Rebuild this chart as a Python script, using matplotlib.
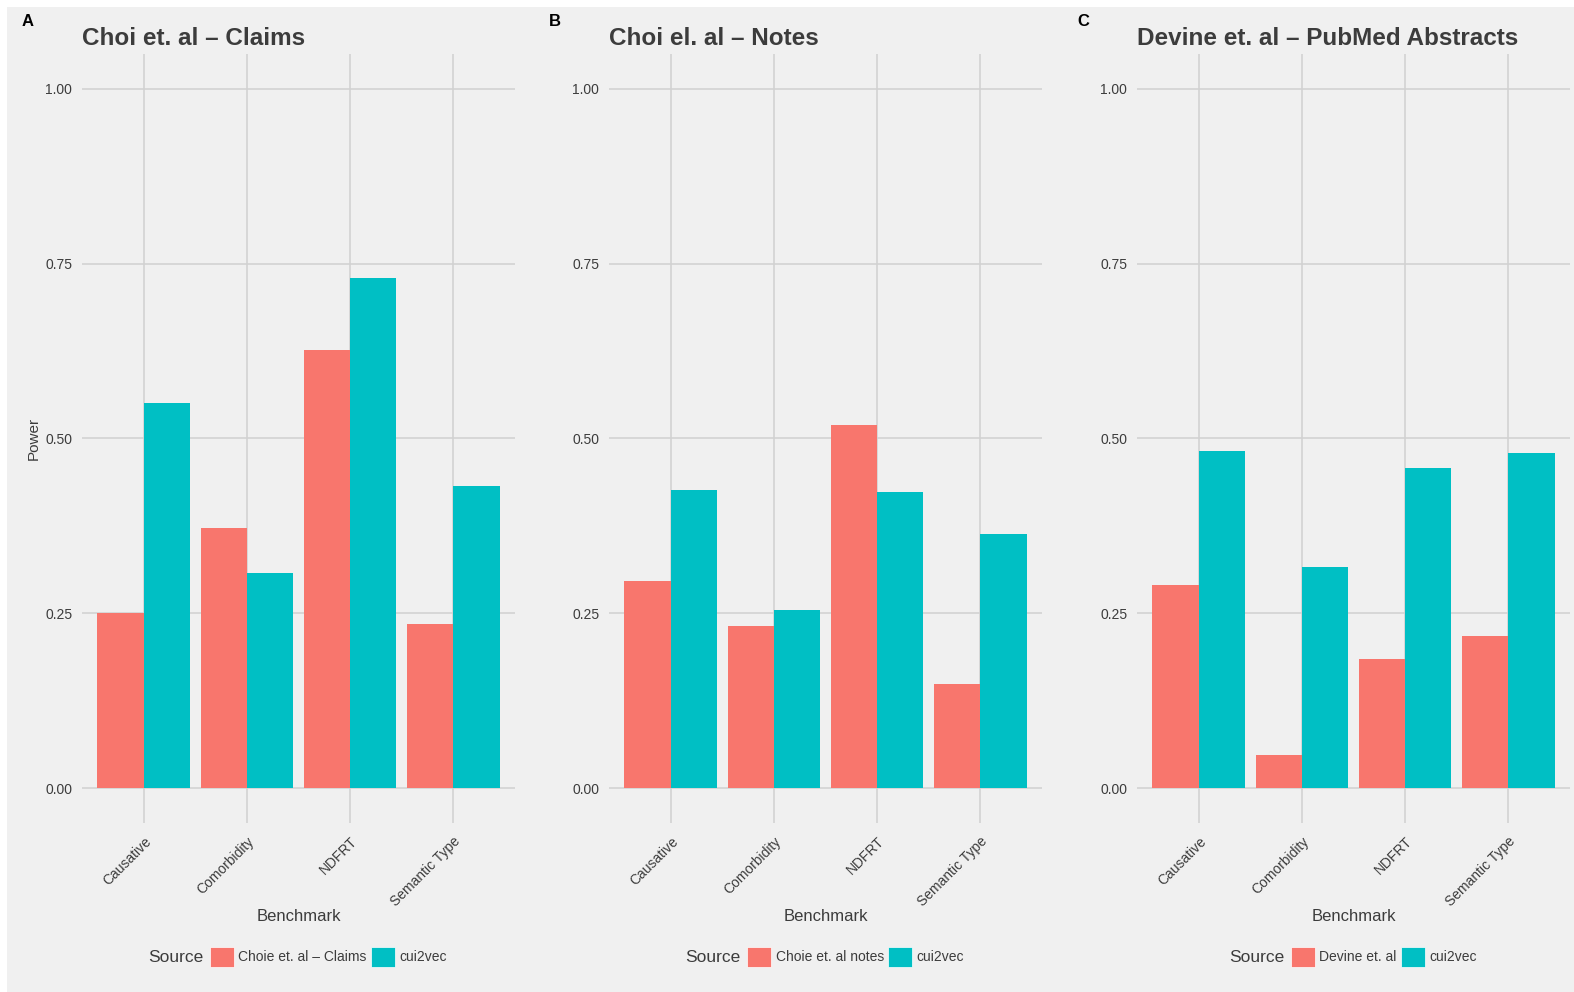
import matplotlib.pyplot as plt
from matplotlib.patches import Rectangle, Patch
import numpy as np

plt.rcParams['font.family'] = ['Liberation Sans', 'DejaVu Sans']

benchmarks = ['Causative', 'Comorbidity', 'NDFRT', 'Semantic Type']

titles = ['Choi et. al \u2013 Claims', 'Choi el. al \u2013 Notes', 'Devine et. al \u2013 PubMed Abstracts']
letters = ['A', 'B', 'C']
source_labels = ['Choie et. al \u2013 Claims', 'Choie et. al notes', 'Devine et. al']

claims_other = [0.250, 0.372, 0.626, 0.235]
claims_cui = [0.551, 0.308, 0.730, 0.432]
notes_other = [0.296, 0.232, 0.519, 0.149]
notes_cui = [0.426, 0.254, 0.423, 0.364]
pubmed_other = [0.290, 0.047, 0.184, 0.218]
pubmed_cui = [0.482, 0.316, 0.458, 0.479]

others = [claims_other, notes_other, pubmed_other]
cuis = [claims_cui, notes_cui, pubmed_cui]

red = '#F8766D'
cyan = '#00BFC4'
bg = '#F0F0F0'
grid = '#D2D2D2'
txt = '#3C3C3C'

W, H = 1574, 992
fig = plt.figure(figsize=(W / 100, H / 100), dpi=100, facecolor='white')
fig.patches.append(Rectangle((7 / W, 0), 1, 1 - 7 / H, transform=fig.transFigure,
                             facecolor=bg, edgecolor='none', zorder=-10))

lefts = [82, 609, 1137]
aw = 433
top, bottom = 54, 823

for i in range(3):
    ax = fig.add_axes([lefts[i] / W, 1 - bottom / H, aw / W, (bottom - top) / H])
    ax.set_facecolor(bg)
    x = np.arange(1, 5)
    bw = 0.45
    ax.bar(x - bw / 2, others[i], width=bw, color=red, zorder=3)
    ax.bar(x + bw / 2, cuis[i], width=bw, color=cyan, zorder=3)
    ax.set_xlim(0.4, 4.6)
    ax.set_ylim(-0.05, 1.05)
    ax.set_yticks([0, 0.25, 0.5, 0.75, 1.0])
    ax.set_yticklabels(['0.00', '0.25', '0.50', '0.75', '1.00'])
    ax.set_xticks(x)
    ax.set_xticklabels(benchmarks, rotation=45, ha='right', va='top',
                       rotation_mode='anchor')
    ax.tick_params(length=0, labelsize=10, labelcolor=txt, pad=7)
    ax.tick_params(axis='x', pad=8)
    ax.grid(True, color=grid, linewidth=1.2, zorder=0)
    for s in ax.spines.values():
        s.set_visible(False)
    ax.set_xlabel('Benchmark', fontsize=12, color=txt, labelpad=0)
    if i == 0:
        ax.set_ylabel('Power', fontsize=11, color=txt, labelpad=3)
    ax.text(0, 1.0 + 4 / 769, titles[i], transform=ax.transAxes, fontsize=17.5,
            fontweight='bold', color=txt, va='bottom', ha='left')
    fig.text((lefts[i] - 60) / W, 1 - 21 / H, letters[i], fontsize=12,
             fontweight='bold', color='black', va='center', ha='left')

    handles = [Patch(facecolor=red, edgecolor='white', linewidth=0.5),
               Patch(facecolor=cyan, edgecolor='white', linewidth=0.5)]
    leg = ax.legend(handles, [source_labels[i], 'cui2vec'], ncol=2,
                    loc='center', bbox_to_anchor=((lefts[i] + aw / 2 + 30) / W, 1 - 957 / H),
                    bbox_transform=fig.transFigure, frameon=False, fontsize=10,
                    handlelength=1.75, handleheight=1.75, handletextpad=0.3,
                    columnspacing=0.3, labelcolor=txt, borderaxespad=0)
    fig.canvas.draw()
    bb = leg.get_window_extent()
    fig.text((bb.x0 - 1) / W, 1 - 958 / H, 'Source', fontsize=12.5, color=txt,
             ha='right', va='center')

fig.savefig('out.png', dpi=100, facecolor='white')
